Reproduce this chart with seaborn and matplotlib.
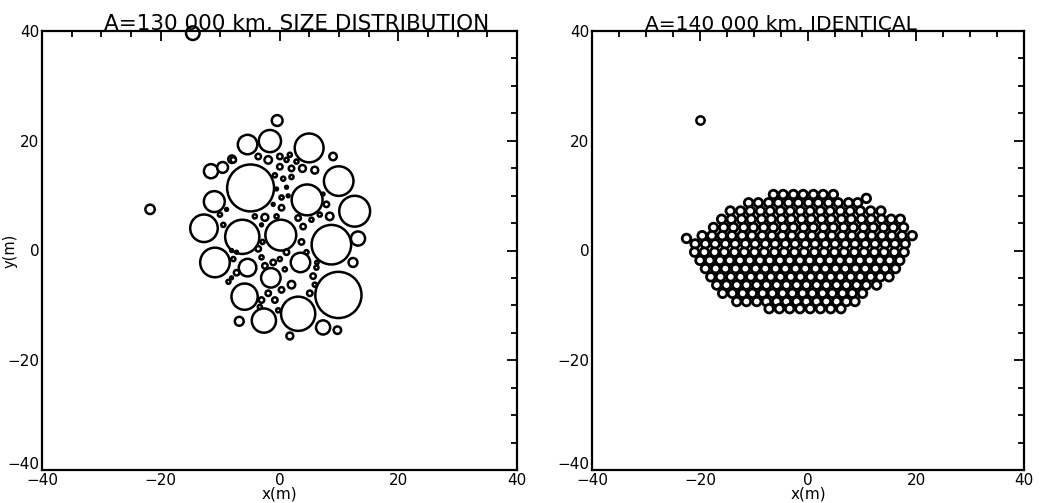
import numpy as np
import pandas as pd
import matplotlib
matplotlib.use("Agg")
import matplotlib.pyplot as plt
import matplotlib.transforms as mtransforms
import seaborn as sns
from matplotlib.ticker import MultipleLocator

# ---------------- data ----------------
titles = ["A=130 000 km, SIZE DISTRIBUTION", "A=140 000 km, IDENTICAL"]
tick_values = [-40, -20, 0, 20, 40]

# Left panel: particles with a size distribution (x, y, radius) in metres
left_x = [-4.87, 4.65, 4.99, 9.97, 12.66, 8.74, 9.92, -6.27, 0.22, -10.87,
          -12.72, -10.98, -1.62, -5.38, -0.39, -11.54, 3.53, -5.38, -1.46, -5.88,
          3.14, -2.63, -6.78, 7.34, 9.75, 1.74, 13.22, 12.38, 9.02, -9.58,
          -8.01,
          -3.58, -1.90, 0.06, 1.74, 0.06, 2.02, 3.87, 5.94, 0.62, 1.18,
          0.34, 0.34, -1.06, -0.50, -2.46, -4.15, -10.03, -9.46, -8.91, -7.78,
          3.14, 3.98, 5.38, 6.78, 7.90, 8.46, 7.34, -3.03, 3.70, 4.54,
          -3.58, -2.86, -3.03, -2.46, 1.18, 0.06, -1.06, 0.90, -7.78, -7.23,
          -8.07, -7.23, 2.02, 0.34, -1.90, -3.03, -0.78, -3.31, 5.66, 6.22,
          5.94, 5.10, -0.22, -8.07,
          1.18, 2.86, -0.78, 2.02, -0.50, 1.46, -8.6, 6.3]
left_y = [11.40, 9.22, 18.69, 12.65, 7.16, 1.06, -8.10, 2.49, 2.80, -2.18,
          4.05, 8.91, 19.94, 19.31, 23.68, 14.45, -2.18, -3.12, -4.98, -8.41,
          -11.53, -12.77, -12.90, -14.02, -14.52, -15.58, 2.18, -2.18, 17.13, 15.14,
          16.64,
          17.13, 16.51, 17.13, 17.44, 15.26, 14.95, 14.95, 14.64, 13.08, 11.53,
          9.66, 7.79, 8.41, 6.22, 6.04, 6.22, 6.54, 4.67, 7.48, 16.51,
          5.92, 4.36, 5.61, 6.54, 8.41, 6.22, 10.28, 4.67, 1.56, -0.31,
          0.31, 1.56, -1.25, -2.80, -0.31, -1.56, -2.18, -3.43, -1.56, -4.05,
          0.00, -0.31, -6.23, -7.17, -7.79, -9.03, -9.03, -10.28, -4.67, -3.12,
          -6.23, -7.79, -10.90, -4.98,
          16.51, 16.20, 13.70, 13.39, 11.21, 9.97, -5.7, -2.2]
left_r = [4.16, 2.81, 2.64, 2.70, 2.81, 3.54, 4.10, 3.09, 2.81, 2.70,
          2.53, 1.97, 2.08, 1.85, 1.12, 1.40, 1.85, 1.69, 1.85, 2.42,
          3.09, 2.25, 0.96, 1.40, 0.84, 0.79, 1.40, 0.96, 0.84, 1.12,
          0.84,
          0.67, 0.84, 0.67, 0.56, 0.67, 0.67, 0.79, 0.79, 0.56, 0.45,
          0.56, 0.67, 0.45, 0.56, 0.79, 0.56, 0.56, 0.56, 0.45, 0.67,
          0.67, 0.67, 0.56, 0.56, 0.67, 0.84, 0.45, 0.45, 0.67, 0.56,
          0.67, 0.56, 0.56, 0.67, 0.67, 0.56, 0.67, 0.56, 0.56, 0.67,
          0.45, 0.45, 0.84, 0.67, 0.67, 0.67, 0.67, 0.56, 0.67, 0.56,
          0.56, 0.67, 0.56, 0.45,
          0.56, 0.56, 0.56, 0.56, 0.45, 0.45, 0.55, 0.5]
# escaped particles in the left panel
left_free_x = [-21.8, -14.6]
left_free_y = [7.5, 39.6]
left_free_r = [1.0, 1.35]

# Right panel: identical particles, read row by row
right_row_y = [10.2, 8.7, 7.2, 5.7, 4.2, 2.7, 1.2, -0.3, -1.8, -3.3,
               -4.8, -6.3, -7.8, -9.3, -10.6]
right_row_x = [
    [-6.4, -4.6, -2.7, -0.9, 1.0, 2.8, 4.7],
    [-11.0, -9.2, -7.3, -5.5, -3.6, -1.8, 0.1, 1.9, 3.8, 5.6, 7.5, 9.2],
    [-14.4, -12.5, -10.7, -8.8, -7.0, -5.1, -3.3, -1.4, 0.4, 2.3, 4.1, 6.0,
     7.8, 9.7, 11.6, 13.5],
    [-16.0, -14.2, -12.3, -10.5, -8.6, -6.8, -4.9, -3.1, -1.2, 0.6, 2.5, 4.3,
     6.2, 8.0, 9.9, 11.7, 13.6, 15.4, 17.1],
    [-17.5, -15.6, -13.8, -11.9, -10.1, -8.2, -6.4, -4.5, -2.7, -0.8, 1.0, 2.9,
     4.7, 6.6, 8.4, 10.3, 12.1, 14.0, 15.8, 17.7],
    [-19.6, -17.8, -15.9, -14.1, -12.2, -10.4, -8.5, -6.7, -4.8, -3.0, -1.1, 0.7,
     2.6, 4.4, 6.3, 8.1, 10.0, 11.8, 13.7, 15.5, 17.4, 19.3],
    [-20.9, -19.0, -17.2, -15.3, -13.5, -11.6, -9.8, -7.9, -6.1, -4.2, -2.4, -0.5,
     1.3, 3.2, 5.0, 6.9, 8.7, 10.6, 12.4, 14.3, 16.1, 18.0],
    [-21.0, -19.2, -17.3, -15.5, -13.6, -11.8, -9.9, -8.1, -6.2, -4.4, -2.5, -0.7,
     1.2, 3.0, 4.9, 6.7, 8.6, 10.4, 12.3, 14.1, 16.0, 17.8],
    [-20.0, -18.2, -16.3, -14.5, -12.6, -10.8, -8.9, -7.1, -5.2, -3.4, -1.5, 0.3,
     2.2, 4.0, 5.9, 7.7, 9.6, 11.4, 13.3, 15.1, 17.0],
    [-19.0, -17.1, -15.3, -13.4, -11.6, -9.7, -7.9, -6.0, -4.2, -2.3, -0.5, 1.4,
     3.2, 5.1, 6.9, 8.8, 10.6, 12.5, 14.3, 16.2],
    [-18.0, -16.2, -14.3, -12.5, -10.6, -8.8, -6.9, -5.1, -3.2, -1.4, 0.5, 2.3,
     4.2, 6.0, 7.9, 9.7, 11.6, 13.4, 15.0],
    [-16.9, -15.1, -13.2, -11.4, -9.5, -7.7, -5.8, -4.0, -2.1, -0.3, 1.6, 3.4,
     5.3, 7.1, 9.0, 10.8, 12.7],
    [-15.8, -14.0, -12.1, -10.3, -8.4, -6.6, -4.7, -2.9, -1.0, 0.8, 2.7, 4.5,
     6.4, 8.2, 10.1],
    [-13.2, -11.4, -9.5, -7.7, -5.8, -4.0, -2.1, -0.3, 1.6, 3.4, 5.3, 7.1, 8.7],
    [-7.2, -5.3, -3.4, -1.5, 0.4, 2.3, 4.2, 6.1],
]
right_extra_x = [-22.5, 10.8]
right_extra_y = [2.2, 9.5]
right_radius = 1.05
right_free_x = [-20.0]
right_free_y = [23.7]
right_free_r = [1.0]

# ---------------- figure ----------------
sns.set_theme(style="white")
plt.rcParams["font.family"] = ["DejaVu Sans"]
plt.rcParams["axes.unicode_minus"] = True

fig = plt.figure(figsize=(10.40, 5.03), dpi=100)
ax_l = fig.add_axes([42 / 1040, (503 - 470) / 503, 475 / 1040, 439 / 503])
ax_r = fig.add_axes([592 / 1040, (503 - 470) / 503, 432 / 1040, 439 / 503])


def draw_particles(ax, xs, ys, rs, lw=1.8, clip=True):
    ppu = ax.get_position().width * fig.get_figwidth() * fig.dpi / 80.0
    lw_px = lw * fig.dpi / 72.0
    d_px = np.maximum(2 * np.asarray(rs, dtype=float) * ppu - lw_px, 1.0)
    d_pt = d_px * 72.0 / fig.dpi
    df = pd.DataFrame({"x": xs, "y": ys})
    sns.scatterplot(data=df, x="x", y="y", s=d_pt ** 2, color="white",
                    edgecolor="black", linewidth=lw, ax=ax, legend=False,
                    zorder=3, clip_on=clip)


# left panel
draw_particles(ax_l, left_x, left_y, left_r)
draw_particles(ax_l, left_free_x, left_free_y, left_free_r, clip=False)

# right panel
rx, ry = [], []
for yv, row in zip(right_row_y, right_row_x):
    rx.extend(row)
    ry.extend([yv] * len(row))
rx.extend(right_extra_x)
ry.extend(right_extra_y)
draw_particles(ax_r, rx, ry, [right_radius] * len(rx), lw=2.0)
draw_particles(ax_r, right_free_x, right_free_y, right_free_r)

title_x = [0.537, 0.4375]
title_size = [15.5, 14.5]
for ax, title, tx, ts in zip([ax_l, ax_r], titles, title_x, title_size):
    ax.set_xlim(-40, 40)
    ax.set_ylim(-40, 40)
    ax.set_xticks(tick_values)
    ax.set_yticks(tick_values)
    ax.xaxis.set_minor_locator(MultipleLocator(5))
    ax.yaxis.set_minor_locator(MultipleLocator(5))
    ax.tick_params(which="both", direction="in", top=True, right=True,
                   colors="black", width=1.3)
    ax.tick_params(which="major", length=7, labelsize=11, pad=2)
    ax.tick_params(which="minor", length=4)
    for sp in ax.spines.values():
        sp.set_linewidth(1.6)
        sp.set_color("black")
        sp.set_zorder(5)
    ax.set_title(title, fontsize=ts, pad=1, color="black", x=tx)
    ax.set_xlabel("x(m)", fontsize=11, labelpad=-1, color="black")
    ax.set_ylabel("")
    # lift the lowest y tick label a little so it clears the x tick label
    lowest = ax.get_yticklabels()[0]
    lowest.set_transform(lowest.get_transform() +
                         mtransforms.ScaledTranslation(0, 5 / 72, fig.dpi_scale_trans))

ax_l.set_ylabel("y(m)", fontsize=10.5, color="black")
ax_l.yaxis.set_label_coords(-0.052, 0.5)

fig.savefig("out.png", dpi=100)
